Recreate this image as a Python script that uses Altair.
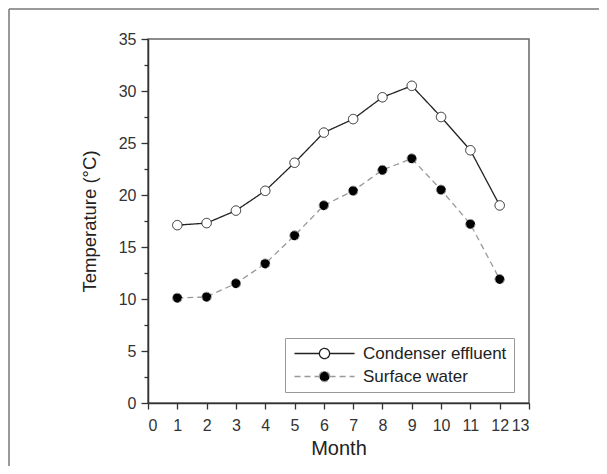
import altair as alt
import pandas as pd

months = list(range(1, 13))
condenser = [17.1, 17.3, 18.5, 20.4, 23.1, 26.0, 27.3, 29.4, 30.5, 27.5, 24.3, 19.0]
surface = [10.1, 10.2, 11.5, 13.4, 16.1, 19.0, 20.4, 22.4, 23.5, 20.5, 17.2, 11.9]
series_names = ["Condenser effluent", "Surface water"]
x_ticks = list(range(0, 14))
y_ticks = [i * 2.5 for i in range(15)]

df = pd.DataFrame({
    "Month": months * 2,
    "Temp": condenser + surface,
    "Series": [series_names[0]] * 12 + [series_names[1]] * 12,
})

x_enc = alt.X(
    "Month:Q",
    scale=alt.Scale(domain=[0, 13], nice=False, zero=False),
    axis=alt.Axis(values=x_ticks, title="Month", tickSize=6, labelPadding=8,
                  titlePadding=5, titleFontSize=20),
)
y_enc = alt.Y(
    "Temp:Q",
    scale=alt.Scale(domain=[0, 35], nice=False),
    axis=alt.Axis(
        values=y_ticks,
        labelExpr="datum.value % 5 === 0 ? datum.label : ''",
        tickSize={"condition": {"test": "datum.value % 5 === 0", "value": 7}, "value": 4},
        labelPadding=5,
        title="Temperature (°C)",
        titlePadding=19,
        titleFontSize=18.5,
    ),
)

legend_path = "M-1,0H3.15M4.85,0H9M3.15,0A0.85,0.85 0 1,1 4.85,0A0.85,0.85 0 1,1 3.15,0"

legend = alt.Legend(
    title=None,
    orient="none",
    legendX=137,
    legendY=299,
    symbolType=legend_path,
    symbolSize=144,
    symbolStrokeWidth=1.3,
    symbolFillColor="white",
    symbolStrokeColor="#222",
    symbolOpacity=1,
    labelOffset=54,
    labelFontSize=17,
    labelColor="#222",
    rowPadding=5,
    padding=7,
    strokeColor="#999",
    fillColor="white",
)

dash_scale = alt.Scale(domain=series_names, range=[[1, 0], [6, 4]])
stroke_scale = alt.Scale(domain=series_names, range=["#222", "#999"])
fill_scale = alt.Scale(domain=series_names, range=["white", "black"])

base = alt.Chart(df)

lines = base.mark_line(strokeWidth=1.3).encode(
    x=x_enc,
    y=y_enc,
    detail="Series:N",
    stroke=alt.Stroke("Series:N", scale=stroke_scale, legend=legend),
    strokeDash=alt.StrokeDash("Series:N", scale=dash_scale, legend=legend),
)

points = base.mark_point(filled=True, size=90, strokeWidth=1.0, opacity=1).encode(
    x=x_enc,
    y=y_enc,
    fill=alt.Fill("Series:N", scale=fill_scale, legend=legend),
    stroke=alt.Stroke("Series:N", scale=stroke_scale, legend=legend),
    strokeDash=alt.StrokeDash("Series:N", scale=dash_scale, legend=legend),
)

frame_df = pd.DataFrame({"k": [0]})
frame_top = alt.Chart(frame_df).mark_rule(color="#777", strokeWidth=1.5).encode(
    x=alt.value(-139), x2=alt.value(452), y=alt.value(-30)
)
frame_left = alt.Chart(frame_df).mark_rule(color="#777", strokeWidth=1.5).encode(
    x=alt.value(-139), y=alt.value(-30), y2=alt.value(428)
)

chart = alt.layer(frame_top, frame_left, lines, points).properties(
    width=381,
    height=364,
    autosize=alt.AutoSizeParams(type="none"),
    padding={"left": 140, "top": 31, "right": 70, "bottom": 63},
    background="white",
).configure_view(
    stroke="#666", strokeWidth=1.5
).configure_axis(
    grid=False,
    domainColor="#333",
    domainWidth=1.5,
    tickColor="#333",
    tickWidth=1.3,
    labelFont="Liberation Sans",
    labelFontSize=16,
    labelColor="#333",
    titleFont="Liberation Sans",
    titleFontWeight="normal",
    titleColor="#222",
).configure_legend(
    labelFont="Liberation Sans",
)

chart.save("out.html", embed_options={"renderer": "svg", "actions": False})
